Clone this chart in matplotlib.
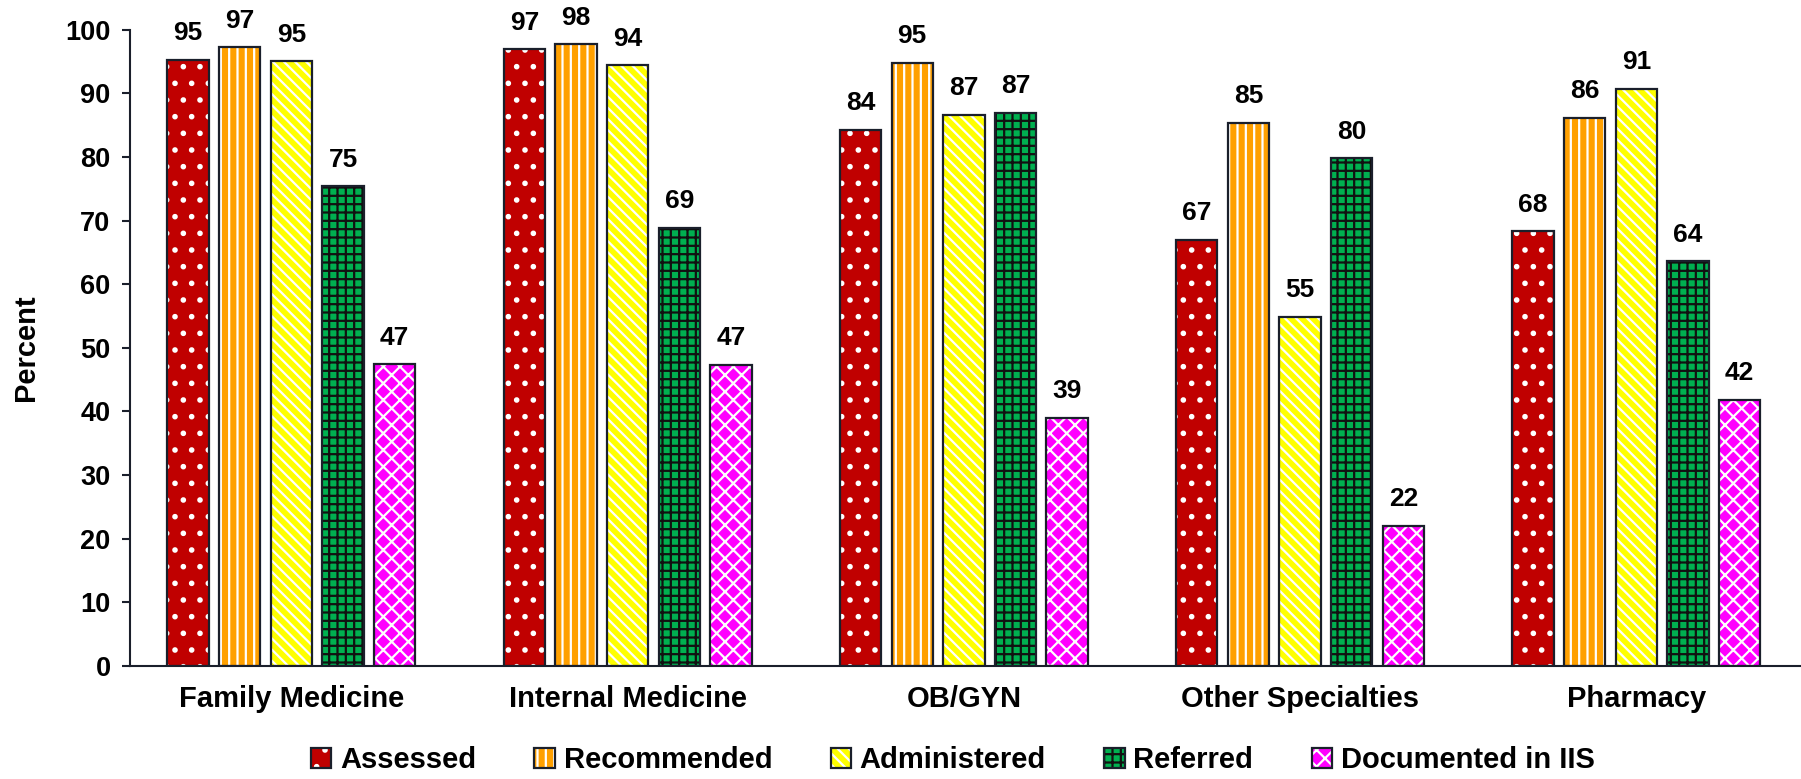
import numpy as np
import matplotlib
matplotlib.use('Agg')
import matplotlib.pyplot as plt
from matplotlib.legend_handler import HandlerTuple

# %% data

categories = ['Family Medicine', 'Internal Medicine', 'OB/GYN', 'Other Specialties', 'Pharmacy']
series = ['Assessed', 'Recommended', 'Administered', 'Referred', 'Documented in IIS']

assessed = [95.3, 96.9, 84.3, 67.0, 68.3]
recommended = [97.2, 97.7, 94.8, 85.4, 86.1]
administered = [95.0, 94.4, 86.6, 54.9, 90.7]
referred = [75.4, 68.9, 86.9, 79.8, 63.6]
documented = [47.4, 47.3, 39.0, 22.0, 41.8]

values = [assessed, recommended, administered, referred, documented]

# fill colour, hatch colour, hatch
fills = ['#c00000', '#ffa000', '#ffff00', '#00b050', '#ff00ff']
hatch_colors = ['white', 'white', 'white', '#111111', 'white']
hatches = ['.', '||', '\\\\\\', '++', 'xx']

# %% plot

plt.rcParams['font.family'] = ['Liberation Sans', 'DejaVu Sans']
plt.rcParams['font.weight'] = 'bold'
plt.rcParams['hatch.linewidth'] = 1.6

fig = plt.figure(figsize=(18.01, 7.79), dpi=100)
ax = fig.add_axes([0.0722, 0.145, 0.9278, 0.817])

x = np.arange(len(categories))
pitch = 0.1536
width = 0.123
outline = '#1a1f2b'

handles = []
for i, vals in enumerate(values):
    pos = x + (i - 2) * pitch
    # hatched fill first, then a dark outline on top
    b1 = ax.bar(pos, vals, width, color=fills[i], edgecolor=hatch_colors[i],
                hatch=hatches[i], linewidth=0)
    b2 = ax.bar(pos, vals, width, fill=False, edgecolor=outline, linewidth=1.6)
    handles.append((b1[0], b2[0]))
    for xp, v in zip(pos, vals):
        ax.text(xp, v + 2.3, '%d' % round(v), ha='center', va='bottom',
                fontsize=19, fontweight='bold')

ax.set_xlim(-0.48, 4.49)
ax.set_ylim(0, 100)
ax.set_yticks(range(0, 101, 10))
ax.set_xticks(x)
ax.set_xticklabels(categories, fontsize=21, fontweight='bold')
ax.tick_params(axis='x', length=0, pad=14)
ax.tick_params(axis='y', labelsize=19.5, length=6, width=1.5, color=outline, pad=8)
ax.set_ylabel('Percent', fontsize=21, fontweight='bold', labelpad=18)

for s in ['top', 'right']:
    ax.spines[s].set_visible(False)
for s in ['left', 'bottom']:
    ax.spines[s].set_color(outline)
    ax.spines[s].set_linewidth(1.5)

fig.legend(handles, series, handler_map={tuple: HandlerTuple(ndivide=1)},
           loc='center', bbox_to_anchor=(0.529, 0.024), ncol=5, frameon=False,
           handlelength=0.7, handleheight=0.7, handletextpad=0.3,
           columnspacing=2.0, prop={'weight': 'bold', 'size': 21})

fig.savefig('out.png', dpi=100)
